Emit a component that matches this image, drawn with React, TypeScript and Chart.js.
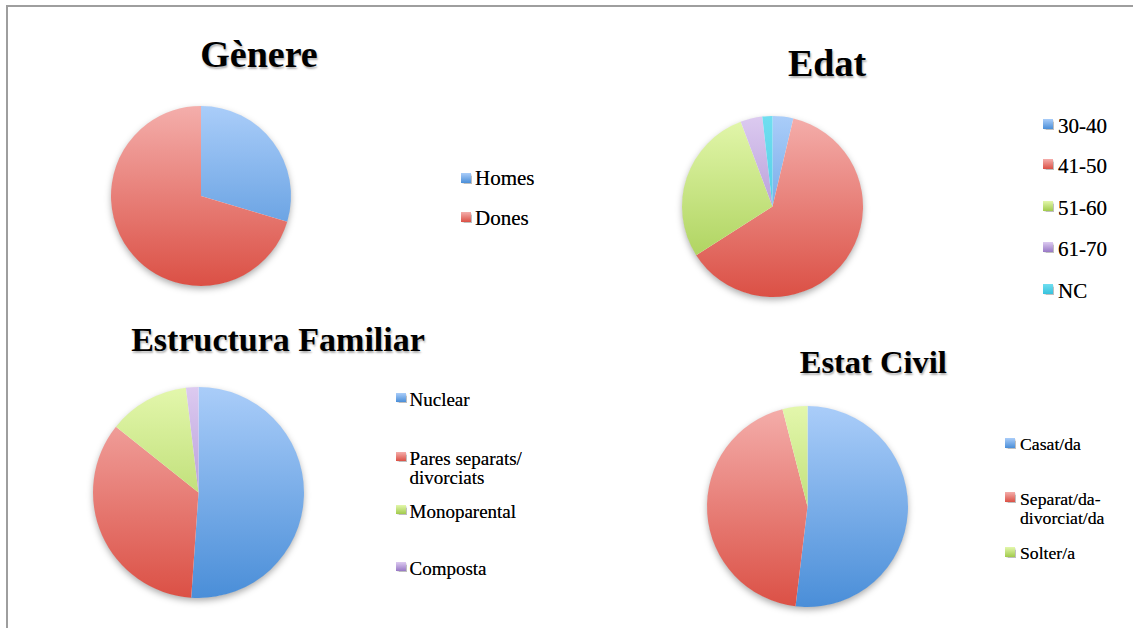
import React, { useEffect, useRef } from 'react';
import { Chart, registerables } from 'chart.js';

Chart.register(...registerables);

// ---------- Data ----------
const genereTitle = 'Gènere';
const genereLabels = ['Homes', 'Dones'];
const genereValues = [16, 38];

const edatTitle = 'Edat';
const edatLabels = ['30-40', '41-50', '51-60', '61-70', 'NC'];
const edatValues = [3.7, 62.2, 28.3, 3.9, 1.8];

const estructuraTitle = 'Estructura Familiar';
const estructuraLabels = ['Nuclear', 'Pares separats/\ndivorciats', 'Monoparental', 'Composta'];
const estructuraValues = [51.1, 34.6, 12.4, 1.9];

const estatTitle = 'Estat Civil';
const estatLabels = ['Casat/da', 'Separat/da-\ndivorciat/da', 'Solter/a'];
const estatValues = [51.9, 44.1, 4.0];

// ---------- Styles ----------
const BLUE = ['#aacdf9', '#4a8ed8'];
const RED = ['#f4aeab', '#db5045'];
const GREEN = ['#e3f7ac', '#a1ca4c'];
const PURPLE = ['#dccaf0', '#9878c5'];
const CYAN = ['#70def0', '#37c2dd'];

const SERIF = '"Liberation Serif", "Times New Roman", Times, serif';
const PAD = 14;

const shadowPlugin = {
  id: 'pieShadow',
  beforeDatasetsDraw(chart: any) {
    const arc = chart.getDatasetMeta(0).data[0];
    if (!arc) return;
    const { x, y, outerRadius } = arc.getProps(['x', 'y', 'outerRadius'], true);
    const ctx = chart.ctx;
    ctx.save();
    ctx.shadowColor = 'rgba(0,0,0,0.35)';
    ctx.shadowBlur = 7;
    ctx.shadowOffsetX = 0;
    ctx.shadowOffsetY = 3;
    ctx.beginPath();
    ctx.arc(x, y, Math.max(outerRadius - 0.5, 0), 0, Math.PI * 2);
    ctx.fillStyle = '#ffffff';
    ctx.fill();
    ctx.restore();
  },
};

function makeGradient(c: any, pair: string[]) {
  const chart = c.chart;
  const area = chart.chartArea;
  if (!area) return pair[1];
  const g = chart.ctx.createLinearGradient(0, area.top, 0, area.bottom);
  g.addColorStop(0, pair[0]);
  g.addColorStop(1, pair[1]);
  return g;
}

type PieProps = {
  labels: string[];
  values: number[];
  colors: string[][];
  cx: number;
  cy: number;
  r: number;
};

function Pie({ labels, values, colors, cx, cy, r }: PieProps) {
  const ref = useRef<HTMLCanvasElement>(null);
  useEffect(() => {
    const canvas = ref.current;
    if (!canvas) return;
    const chart = new Chart(canvas, {
      type: 'pie',
      data: {
        labels: labels.map((l) => l.replace('\n', ' ')),
        datasets: [
          {
            data: values,
            backgroundColor: (c: any) => makeGradient(c, colors[c.dataIndex % colors.length]),
            borderWidth: 0,
            hoverOffset: 0,
          },
        ],
      },
      options: {
        responsive: false,
        animation: false,
        devicePixelRatio: 1,
        events: [],
        layout: { padding: PAD },
        plugins: {
          legend: { display: false },
          tooltip: { enabled: false },
          title: { display: false },
        },
      },
      plugins: [shadowPlugin],
    } as any);
    return () => chart.destroy();
  }, []);
  const size = Math.round(2 * r + 2 * PAD);
  return (
    <canvas
      ref={ref}
      width={size}
      height={size}
      style={{
        position: 'absolute',
        left: cx - size / 2,
        top: cy - size / 2,
        width: size,
        height: size,
      }}
    />
  );
}

type TitleProps = { text: string; cx: number; baseline: number; size: number };

function Title({ text, cx, baseline, size }: TitleProps) {
  return (
    <div
      style={{
        position: 'absolute',
        left: cx - 250,
        width: 500,
        top: baseline - 0.8375 * size,
        textAlign: 'center',
        fontFamily: SERIF,
        fontWeight: 'bold',
        fontSize: size,
        lineHeight: '1',
        color: '#000',
        whiteSpace: 'nowrap',
        textShadow: '1px 2px 2px rgba(0,0,0,0.3)',
      }}
    >
      {text}
    </div>
  );
}

type LegendProps = {
  labels: string[];
  colors: string[][];
  boxLeft: number;
  textLeft: number;
  baselines: number[];
  fontSize: number;
  lineHeight: number;
  boxSize: number;
  boxGap: number;
};

function Legend({ labels, colors, boxLeft, textLeft, baselines, fontSize, lineHeight, boxSize, boxGap }: LegendProps) {
  return (
    <>
      {labels.map((label, i) => {
        const b = baselines[i];
        const lines = label.split('\n');
        return (
          <React.Fragment key={i}>
            <div
              style={{
                position: 'absolute',
                left: boxLeft,
                top: b - boxGap - boxSize,
                width: boxSize,
                height: boxSize,
                background: `linear-gradient(to bottom, ${colors[i][0]}, ${colors[i][1]})`,
                boxShadow: '0.5px 0.5px 1px rgba(0,0,0,0.25)',
              }}
            />
            <div
              style={{
                position: 'absolute',
                left: textLeft,
                top: b - lineHeight / 2 - 0.3375 * fontSize,
                fontFamily: SERIF,
                fontSize,
                lineHeight: `${lineHeight}px`,
                color: '#000',
                whiteSpace: 'nowrap',
                textShadow: '0 0 0.6px rgba(0,0,0,0.6)',
              }}
            >
              {lines.map((ln, k) => (
                <div key={k}>{ln}</div>
              ))}
            </div>
          </React.Fragment>
        );
      })}
    </>
  );
}

export default function App() {
  const genereColors = [BLUE, RED];
  const edatColors = [BLUE, RED, GREEN, PURPLE, CYAN];
  const estructuraColors = [BLUE, RED, GREEN, PURPLE];
  const estatColors = [BLUE, RED, GREEN];

  return (
    <div
      style={{
        position: 'absolute',
        left: 0,
        top: 0,
        width: 1133,
        height: 628,
        overflow: 'hidden',
        background: '#ffffff',
      }}
    >
      <div
        style={{
          position: 'absolute',
          left: 6,
          top: 5,
          right: -20,
          bottom: -20,
          borderTop: '2px solid #9e9e9e',
          borderLeft: '2px solid #9e9e9e',
        }}
      />

      {/* Gènere */}
      <Title text={genereTitle} cx={259} baseline={66.5} size={38} />
      <Pie labels={genereLabels} values={genereValues} colors={genereColors} cx={201} cy={195.5} r={90} />
      <Legend
        labels={genereLabels}
        colors={genereColors}
        boxLeft={461}
        textLeft={475}
        baselines={[186, 225.5]}
        fontSize={21}
        lineHeight={21}
        boxSize={10}
        boxGap={3.5}
      />

      {/* Edat */}
      <Title text={edatTitle} cx={827} baseline={76} size={38} />
      <Pie labels={edatLabels} values={edatValues} colors={edatColors} cx={772} cy={206} r={90.5} />
      <Legend
        labels={edatLabels}
        colors={edatColors}
        boxLeft={1043}
        textLeft={1058}
        baselines={[134, 174, 215.5, 257, 298.5]}
        fontSize={21}
        lineHeight={21}
        boxSize={10}
        boxGap={5}
      />

      {/* Estructura Familiar */}
      <Title text={estructuraTitle} cx={278} baseline={351.7} size={34} />
      <Pie labels={estructuraLabels} values={estructuraValues} colors={estructuraColors} cx={198.5} cy={492.5} r={105.5} />
      <Legend
        labels={estructuraLabels}
        colors={estructuraColors}
        boxLeft={396}
        textLeft={409.5}
        baselines={[406, 465, 518.3, 575]}
        fontSize={19}
        lineHeight={19}
        boxSize={9.5}
        boxGap={4}
      />

      {/* Estat Civil */}
      <Title text={estatTitle} cx={873.3} baseline={373.3} size={32.5} />
      <Pie labels={estatLabels} values={estatValues} colors={estatColors} cx={807} cy={506.5} r={100.5} />
      <Legend
        labels={estatLabels}
        colors={estatColors}
        boxLeft={1005}
        textLeft={1020}
        baselines={[451, 505.7, 560]}
        fontSize={17.7}
        lineHeight={19.3}
        boxSize={10}
        boxGap={3.5}
      />
    </div>
  );
}
